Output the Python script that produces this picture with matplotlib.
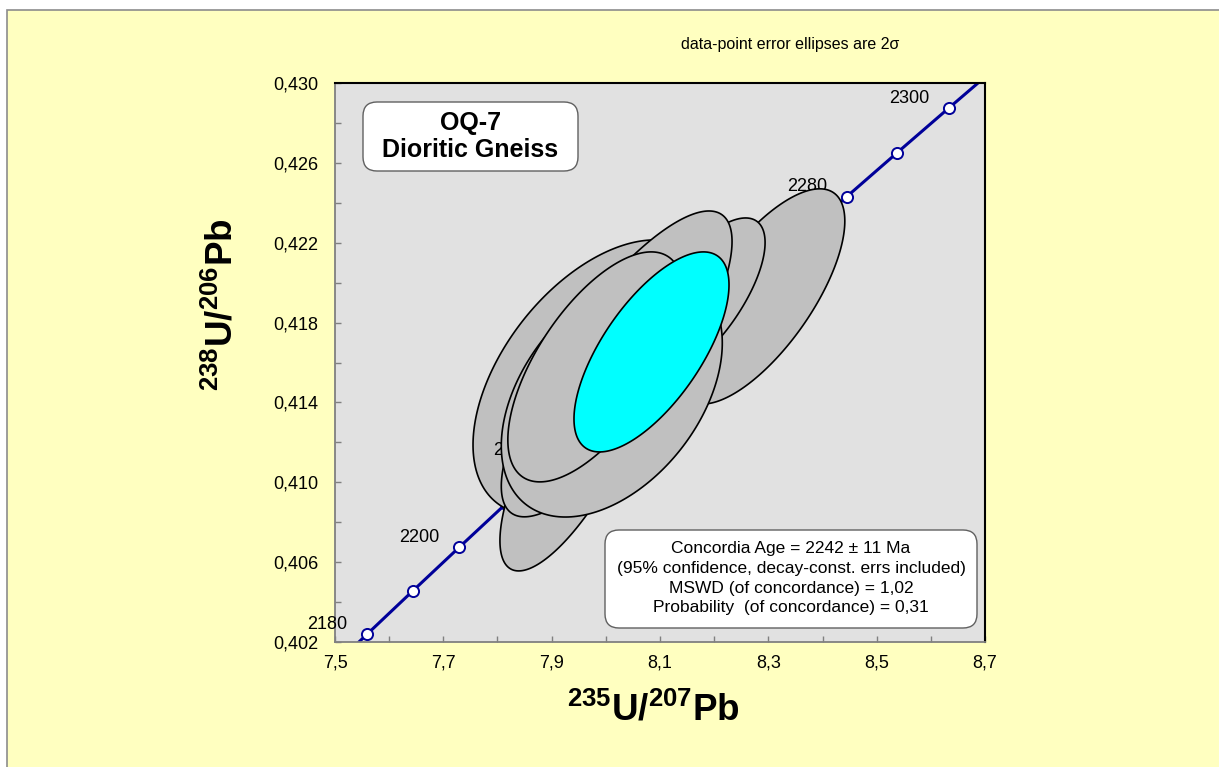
import numpy as np
import matplotlib
matplotlib.use("Agg")
import matplotlib.pyplot as plt
from matplotlib.patches import Polygon, Rectangle, FancyBboxPatch
from matplotlib.ticker import FixedLocator, FuncFormatter

plt.rcParams['font.family'] = ['Liberation Sans', 'DejaVu Sans']
plt.rcParams['mathtext.fontset'] = 'custom'
plt.rcParams['mathtext.rm'] = 'Liberation Sans'
plt.rcParams['mathtext.bf'] = 'Liberation Sans:bold'

# concordia (decay constants, 1/yr)
L238 = 1.55125e-10
L235 = 9.8485e-10
CONC_AGES = [2170, 2180, 2190, 2200, 2210, 2220, 2230, 2240, 2250,
             2260, 2270, 2280, 2290, 2300, 2310]
MARK_AGES = [2180, 2190, 2200, 2210, 2220, 2230, 2240, 2250, 2260,
             2270, 2280, 2290, 2300]
LABEL_AGES = [2180, 2200, 2220, 2240, 2260, 2280, 2300]

X_MAJOR = [7.5, 7.7, 7.9, 8.1, 8.3, 8.5, 8.7]
X_MINOR = [7.6, 7.8, 8.0, 8.2, 8.4, 8.6]
Y_MAJOR = [0.402, 0.406, 0.410, 0.414, 0.418, 0.422, 0.426, 0.430]
Y_MINOR = [0.404, 0.408, 0.412, 0.416, 0.420, 0.424, 0.428]

# data-point error ellipses (2 sigma), back to front
ELL_X   = [7.980, 7.943, 8.287, 8.174, 8.020, 8.011, 7.981]
ELL_Y   = [0.41525, 0.41162, 0.41931, 0.41913, 0.41593, 0.41440, 0.41578]
ELL_SX  = [0.2252, 0.1385, 0.1542, 0.1200, 0.2130, 0.2040, 0.1619]
ELL_SY  = [0.00689, 0.00606, 0.00539, 0.00411, 0.00766, 0.00614, 0.00576]
ELL_RHO = [0.49, 0.75, 0.70, 0.70, 0.80, 0.42, 0.635]

# concordia age ellipse
AGE_X, AGE_Y, AGE_SX, AGE_SY, AGE_RHO = 8.0843, 0.41653, 0.1431, 0.00501, 0.67

SAMPLE = "OQ-7\nDioritic Gneiss"
STATS = ["Concordia Age = 2242 \u00b1 11 Ma",
         "(95% confidence, decay-const. errs included)",
         "MSWD (of concordance) = 1,02",
         "Probability  (of concordance) = 0,31"]

NAVY = "#000099"


def conc(t_ma):
    t = np.asarray(t_ma, dtype=float) * 1e6
    return np.exp(L235 * t) - 1, np.exp(L238 * t) - 1


def ellipse_xy(cx, cy, sx, sy, rho, n=240):
    a = np.linspace(0, 2 * np.pi, n)
    x = cx + sx * np.cos(a)
    y = cy + sy * (rho * np.cos(a) + np.sqrt(1 - rho ** 2) * np.sin(a))
    return np.column_stack([x, y])


W, H = 1219, 767
fig = plt.figure(figsize=(W / 100, H / 100), dpi=100)
fig.patch.set_facecolor("white")
fig.add_artist(Rectangle((7 / W, -0.01), 1.0, 1 - 10 / H + 0.01,
                         transform=fig.transFigure, facecolor="#FFFFC0",
                         edgecolor="#8c8c8c", lw=1.2, zorder=-10))

ax = fig.add_axes([335 / W, 125 / H, 650 / W, 559 / H])
ax.set_facecolor("#E1E1E1")
ax.set_xlim(7.5, 8.7)
ax.set_ylim(0.402, 0.430)

# concordia curve
cx, cy = conc(CONC_AGES)
ax.plot(cx, cy, color=NAVY, lw=2.2, zorder=2, solid_capstyle="butt")
mx, my = conc(MARK_AGES)
ax.plot(mx, my, "o", ms=8, mfc="white", mec=NAVY, mew=1.4, zorder=3)
for age in LABEL_AGES:
    lx, ly = conc([age])
    ax.annotate(str(age), (lx[0], ly[0]), xytext=(-14, 7),
                textcoords="offset points", ha="right", va="center",
                fontsize=13, zorder=3.7, annotation_clip=False)

# ellipses; the rearmost one sits below the age labels
for i, (x0, y0, sx, sy, r) in enumerate(zip(ELL_X, ELL_Y, ELL_SX, ELL_SY, ELL_RHO)):
    ax.add_patch(Polygon(ellipse_xy(x0, y0, sx, sy, r), closed=True,
                         facecolor="#C0C0C0", edgecolor="black", lw=1.2,
                         zorder=3.5 if i == 0 else 4))
ax.add_patch(Polygon(ellipse_xy(AGE_X, AGE_Y, AGE_SX, AGE_SY, AGE_RHO),
                     closed=True, facecolor="#00FFFF", edgecolor="black",
                     lw=1.2, zorder=5))

# axes cosmetics
ax.xaxis.set_major_locator(FixedLocator(X_MAJOR))
ax.xaxis.set_minor_locator(FixedLocator(X_MINOR))
ax.yaxis.set_major_locator(FixedLocator(Y_MAJOR))
ax.yaxis.set_minor_locator(FixedLocator(Y_MINOR))
ax.xaxis.set_major_formatter(FuncFormatter(lambda v, p: f"{v:.1f}".replace(".", ",")))
ax.yaxis.set_major_formatter(FuncFormatter(lambda v, p: f"{v:.3f}".replace(".", ",")))
ax.tick_params(which="both", direction="in", length=4, width=1,
               color="#808080", labelsize=13)
ax.tick_params(axis="y", pad=12)
ax.tick_params(axis="x", pad=9)
for sp in ("left", "bottom"):
    ax.spines[sp].set_color("#808080")
    ax.spines[sp].set_linewidth(1.3)
for sp in ("top", "right"):
    ax.spines[sp].set_color("black")
    ax.spines[sp].set_linewidth(1.5)


# boxes (inch coords from the bottom-left corner)
def add_box(x0, y0, x1, y1):
    fig.add_artist(FancyBboxPatch((x0 / 100, (H - y1) / 100), (x1 - x0) / 100,
                                  (y1 - y0) / 100,
                                  boxstyle="round,pad=0,rounding_size=0.14",
                                  transform=fig.dpi_scale_trans,
                                  facecolor="white", edgecolor="#606060",
                                  lw=1.0, zorder=6))


add_box(363, 102, 578, 171)
fig.text(470.5 / W, 1 - 136.5 / H, SAMPLE, ha="center", va="center",
         fontsize=18, fontweight="bold", linespacing=1.2, zorder=7)

add_box(605, 530, 977, 628)
for i, line in enumerate(STATS):
    fig.text(791 / W, 1 - (549 + 19.5 * i) / H, line, ha="center",
             va="center", fontsize=12.5, zorder=7)

fig.text(790 / W, 1 - 45 / H, "data-point error ellipses are 2\u03c3",
         ha="center", va="center", fontsize=11.5)

fig.text(653 / W, 1 - 710 / H, r"$\mathbf{^{235}U/^{207}Pb}$",
         ha="center", va="center", fontsize=26.5)
fig.text(222 / W, 1 - 305 / H, r"$\mathbf{^{238}U/^{206}Pb}$",
         ha="center", va="center", fontsize=26.5, rotation=90)

fig.savefig("out.png", dpi=100)
